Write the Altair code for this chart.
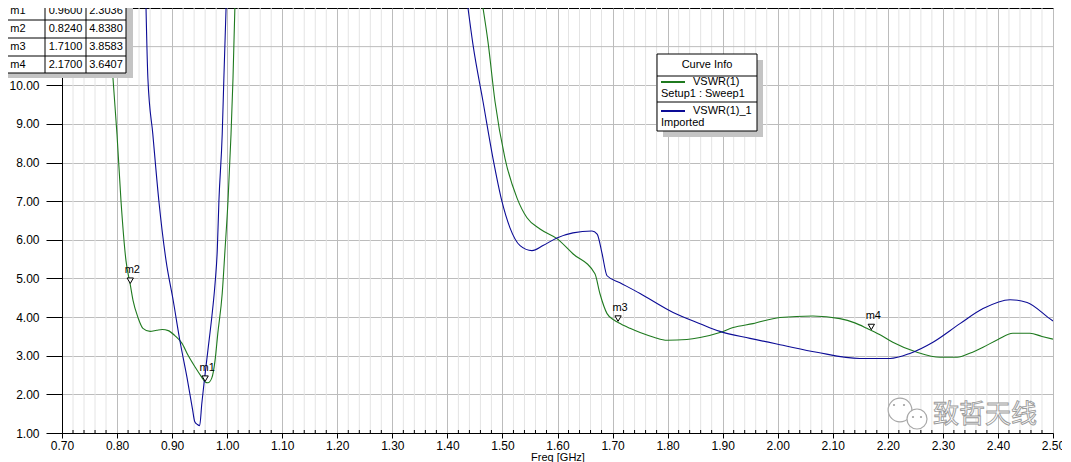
import altair as alt
import pandas as pd

# ---------------- data ----------------
green_a_f = [0.785, 0.7926, 0.7999, 0.8072, 0.8162, 0.824, 0.829, 0.838, 0.847, 0.860, 0.872, 0.882,
             0.893, 0.905, 0.918, 0.929, 0.942, 0.954, 0.960, 0.965, 0.972, 0.978, 0.983, 0.991,
             0.996, 1.0015, 1.007, 1.0106, 1.014]
green_a_v = [12.0, 10.18, 8.73, 7.0, 5.46, 4.84, 4.43, 3.99, 3.71, 3.63, 3.66, 3.68,
             3.65, 3.52, 3.32, 3.01, 2.70, 2.44, 2.32, 2.30, 2.42, 2.88, 3.58, 4.61,
             5.72, 7.0, 8.73, 10.18, 12.0]

blue_a_f = [0.8526, 0.856, 0.865, 0.876, 0.889, 0.902, 0.914, 0.927, 0.937, 0.941, 0.946, 0.950,
            0.954, 0.958, 0.965, 0.972, 0.978, 0.982, 0.985, 0.991, 0.994, 0.998]
blue_a_v = [12.0, 10.18, 8.73, 7.0, 5.46, 4.43, 3.40, 2.44, 1.62, 1.30, 1.22, 1.19,
            1.77, 2.29, 3.14, 3.99, 4.87, 5.72, 7.0, 8.73, 10.18, 12.0]

green_b_f = [1.4647, 1.4737, 1.4865, 1.5046, 1.5265, 1.5446, 1.5682, 1.599, 1.628, 1.668, 1.677,
             1.690, 1.704, 1.710, 1.7317, 1.750, 1.775, 1.799, 1.835, 1.859, 1.895, 1.919, 1.955,
             2.004, 2.064, 2.113, 2.140, 2.162, 2.185, 2.209, 2.253, 2.295, 2.326, 2.350, 2.373,
             2.400, 2.427, 2.458, 2.480, 2.500]
green_b_v = [12.0, 11.13, 9.58, 8.11, 7.08, 6.57, 6.28, 6.03, 5.64, 5.12, 4.61,
             4.09, 3.91, 3.86, 3.71, 3.60, 3.48, 3.40, 3.42, 3.47, 3.60, 3.73, 3.83,
             3.99, 4.03, 3.96, 3.85, 3.71, 3.55, 3.35, 3.09, 2.96, 2.96, 3.07, 3.22,
             3.42, 3.58, 3.58, 3.50, 3.43]

blue_b_f = [1.4374, 1.4465, 1.4647, 1.4828, 1.499, 1.5137, 1.532, 1.5537, 1.5736, 1.599, 1.628,
            1.6626, 1.672, 1.681, 1.690, 1.7135, 1.750, 1.810, 1.8588, 1.895, 1.9496, 2.0095,
            2.071, 2.149, 2.204, 2.240, 2.282, 2.331, 2.373, 2.422, 2.453, 2.494, 2.500]
blue_b_v = [12.0, 11.05, 9.58, 8.11, 7.0, 6.31, 5.85, 5.72, 5.85, 6.05, 6.18,
            6.23, 6.15, 5.64, 5.07, 4.89, 4.61, 4.12, 3.83, 3.63, 3.45, 3.27,
            3.09, 2.93, 2.93, 3.06, 3.35, 3.83, 4.22, 4.45, 4.38, 3.96, 3.90]

marker_names = ["m1", "m2", "m3", "m4"]
marker_freq = [0.9600, 0.8240, 1.7100, 2.1700]
marker_vals = [2.3036, 4.8380, 3.8583, 3.6407]

x_major = [round(0.70 + 0.10 * i, 2) for i in range(19)]
x_minor = [round(0.70 + 0.02 * i, 2) for i in range(91) if i % 5 != 0]
y_ticks = list(range(1, 11))
y_hidden_grid = [11]

legend_title = "Curve Info"
legend_names = ["VSWR(1)", "VSWR(1)_1"]
legend_subs = ["Setup1 : Sweep1", "Imported"]
watermark = "致哲天线"

GREEN = "#1f7a1f"
BLUE = "#0c0c96"
FONT = "Liberation Sans"
W, H = 991, 425

# ---------------- tables ----------------
rows = []
for seg, series, fs, vs in [("ga", "g", green_a_f, green_a_v), ("gb", "g", green_b_f, green_b_v),
                            ("ba", "b", blue_a_f, blue_a_v), ("bb", "b", blue_b_f, blue_b_v)]:
    for f, v in zip(fs, vs):
        rows.append({"f": f, "v": v, "seg": seg, "series": series})
curves = pd.DataFrame(rows)
markers = pd.DataFrame({"name": marker_names, "f": marker_freq, "v": marker_vals})

xscale = alt.Scale(domain=[0.7, 2.5], nice=False, zero=False)
yscale = alt.Scale(domain=[1, 12], nice=False, zero=False)

xaxis = alt.Axis(values=x_major, format=".2f", title="Freq [GHz]", grid=True,
                 gridColor="#bcbcbc", gridWidth=1, domainColor="black", domainWidth=1,
                 tickColor="black", tickSize=5, tickWidth=1, labelFont=FONT, labelFontSize=12,
                 labelColor="black", labelPadding=2, labelFlush=False,
                 titleFont=FONT, titleFontSize=11, titleFontWeight="normal", titleColor="black",
                 titleY=18, titleBaseline="top")
yaxis = alt.Axis(values=y_ticks, format=".2f", title="Y1", grid=True, gridColor="#bcbcbc",
                 gridWidth=1, domainColor="black", domainWidth=1, tickColor="black",
                 tickSize=16, tickWidth=1, labelFont=FONT, labelFontSize=12, labelColor="black",
                 labelPadding=7, labelFlush=False, titleFont=FONT, titleFontSize=11,
                 titleFontWeight="normal", titleColor="black", titleX=-58)

X = lambda fld: alt.X(fld, scale=xscale, axis=xaxis)
Y = lambda fld: alt.Y(fld, scale=yscale, axis=yaxis)

one = pd.DataFrame({"a": [0]})


def box(x1, x2, y1, y2, fill, stroke=None):
    kw = dict(fill=fill)
    if stroke:
        kw.update(stroke=stroke, strokeWidth=1)
    return alt.Chart(one).mark_rect(**kw).encode(
        x=alt.value(x1), x2=alt.value(x2), y=alt.value(y1), y2=alt.value(y2))


def hline(x1, x2, y, color="black", w=1):
    return alt.Chart(one).mark_rule(color=color, strokeWidth=w).encode(
        x=alt.value(x1), x2=alt.value(x2), y=alt.value(y))


def vline(x, y1, y2, color="black", w=1):
    return alt.Chart(one).mark_rule(color=color, strokeWidth=w).encode(
        x=alt.value(x), y=alt.value(y1), y2=alt.value(y2))


def label(txt, x, y, align="center", size=11, **kw):
    return alt.Chart(one).mark_text(text=txt, align=align, baseline="middle", font=FONT,
                                    fontSize=size, color="black", **kw).encode(
        x=alt.value(x), y=alt.value(y))


layers = []

# minor grid + minor ticks + upper horizontal grid line
grid_df = pd.DataFrame({"g": x_minor})
layers.append(alt.Chart(grid_df).mark_rule(color="#e4e4e4", strokeWidth=1).encode(
    x=X("g:Q"), y=alt.value(0), y2=alt.value(H)))
layers.append(alt.Chart(grid_df).mark_rule(color="black", strokeWidth=1).encode(
    x=X("g:Q"), y=alt.value(H - 3), y2=alt.value(H)))
layers.append(alt.Chart(pd.DataFrame({"yy": y_hidden_grid})).mark_rule(color="#bcbcbc", strokeWidth=1).encode(
    y=Y("yy:Q"), x=alt.value(0), x2=alt.value(W)))

# curves
layers.append(alt.Chart(curves).mark_line(strokeWidth=1.1, interpolate="monotone", clip=True).encode(
    x=X("f:Q"), y=Y("v:Q"),
    color=alt.Color("series:N", scale=alt.Scale(domain=["g", "b"], range=[GREEN, BLUE]), legend=None),
    detail="seg:N"))

# markers
layers.append(alt.Chart(markers).mark_point(shape="triangle-down", size=40, filled=True, fill="white",
                                            stroke="black", strokeWidth=1, opacity=1, yOffset=-4).encode(
    x=X("f:Q"), y=Y("v:Q")))
layers.append(alt.Chart(markers).mark_text(dy=-15, dx=2, font=FONT, fontSize=11, color="black").encode(
    x=X("f:Q"), y=Y("v:Q"), text="name:N"))

# marker table (top-left)
layers.append(box(-56, 71, -2, 70, "#c4c4c4"))
layers.append(box(-70, 64, -10, 65, "white", "black"))
for yy in [12, 30, 48]:
    layers.append(hline(-70, 64, yy))
layers.append(vline(-17, -10, 65))
layers.append(vline(24, -10, 65))
row_centers = [3, 21, 39, 56.5]
for i, name in enumerate(marker_names):
    yc = row_centers[i]
    layers.append(label(name, -44, yc))
    layers.append(label(f"{marker_freq[i]:.4f}", 3.5, yc))
    layers.append(label(f"{marker_vals[i]:.4f}", 44, yc))

# curve info legend
layers.append(box(601, 701, 52, 129, "#c4c4c4"))
layers.append(box(595, 695, 46, 123, "white", "black"))
layers.append(hline(595, 695, 68))
layers.append(hline(595, 695, 94))
layers.append(label(legend_title, 645, 57))
for yy, col, nm, sub in [(74, GREEN, legend_names[0], legend_subs[0]),
                         (103, BLUE, legend_names[1], legend_subs[1])]:
    layers.append(hline(599, 623, yy, col, 2))
    layers.append(label(nm, 631, yy, align="left"))
    layers.append(label(sub, 599, yy + 12, align="left"))

# watermark
icon = pd.DataFrame({"a": [0]})
layers.append(alt.Chart(icon).mark_point(shape="circle", size=560, filled=True, fill="white",
                                         stroke="#a8a8a8", strokeWidth=1.2, opacity=1).encode(
    x=alt.value(838), y=alt.value(402)))
layers.append(alt.Chart(icon).mark_point(shape="circle", size=400, filled=True, fill="white",
                                         stroke="#a8a8a8", strokeWidth=1.2, opacity=1).encode(
    x=alt.value(855), y=alt.value(411)))
for dx, dy in [(832, 397), (842, 397), (851, 409), (859, 409)]:
    layers.append(alt.Chart(icon).mark_point(shape="circle", size=5, filled=True, color="#a0a0a0",
                                             opacity=1).encode(x=alt.value(dx), y=alt.value(dy)))
layers.append(alt.Chart(one).mark_text(text=watermark, align="center", baseline="middle",
                                       font="Noto Sans CJK SC", fontSize=26, fill="white",
                                       stroke="#9a9a9a", strokeWidth=0.9).encode(
    x=alt.value(923), y=alt.value(407)))

chart = alt.layer(*layers).properties(
    width=W, height=H,
    autosize=alt.AutoSizeParams(type="none"),
    padding={"left": 54, "top": 0, "right": 9, "bottom": 29},
    background="white",
).configure_view(stroke="black", strokeWidth=1)

chart.save("out.html", embed_options={"renderer": "svg", "actions": False})
